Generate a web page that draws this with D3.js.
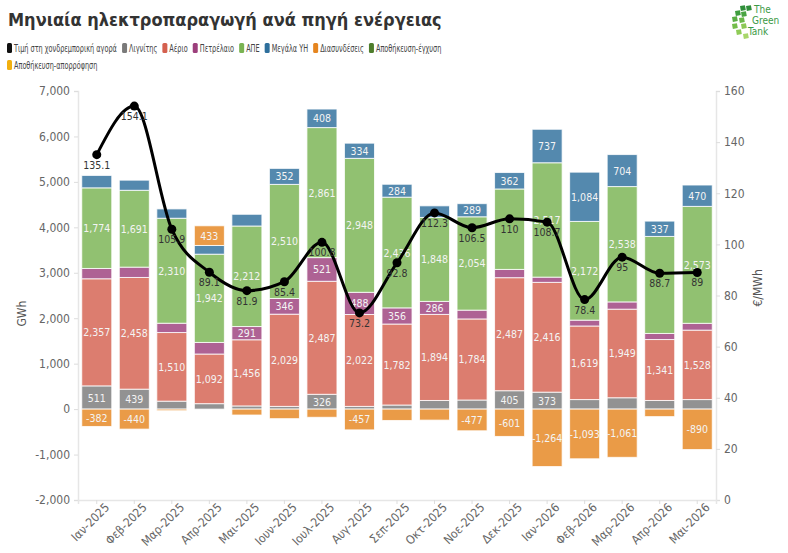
<!DOCTYPE html>
<html>
<head>
<meta charset="utf-8">
<script src="https://cdn.jsdelivr.net/npm/d3@7"></script>
<style>
  body { margin: 0; background: #fff; }
  svg text { font-family: "Liberation Sans Narrow", "DejaVu Sans Condensed", "Roboto Condensed", "Roboto", sans-serif; }
</style>
</head>
<body>
<script>
// Months on the x axis
var months = ["Ιαν-2025", "Φεβ-2025", "Μαρ-2025", "Απρ-2025", "Μαι-2025", "Ιουν-2025", "Ιουλ-2025", "Αυγ-2025",
  "Σεπ-2025", "Οκτ-2025", "Νοε-2025", "Δεκ-2025", "Ιαν-2026", "Φεβ-2026", "Μαρ-2026", "Απρ-2026", "Μαι-2026"];

// Generation per source (GWh)
var lignite = [511, 439, 175, 120, 70, 60, 326, 60, 90, 190, 200, 405, 373, 210, 250, 190, 210];
var gas = [2357, 2458, 1510, 1092, 1456, 2029, 2487, 2022, 1782, 1894, 1784, 2487, 2416, 1619, 1949, 1341, 1528];
var oil = [227, 227, 205, 255, 291, 346, 521, 488, 356, 286, 194, 182, 115, 129, 160, 134, 150];
var res = [1774, 1691, 2310, 1942, 2212, 2510, 2861, 2948, 2436, 1848, 2054, 1770, 2517, 2172, 2538, 2135, 2573];
var hydro = [273, 223, 205, 192, 258, 352, 408, 334, 284, 255, 289, 362, 737, 1084, 704, 337, 470];
var interconn = [-382, -440, -35, 433, -130, -210, -180, -457, -250, -242, -477, -601, -1264, -1093, -1061, -165, -890];
var storageOut = [0, 0, 0, 0, 0, 0, 0, 0, 0, 0, 0, 0, 0, 0, 0, 0, 0];
var storageIn = [0, 0, 0, 0, 0, 0, 0, 0, 0, 0, 0, 0, 0, 0, 0, 0, 0];

// Wholesale price (€/MWh)
var price = [135.1, 154.1, 105.9, 89.1, 81.9, 85.4, 100.8, 73.2, 92.8, 112.3, 106.5, 110, 108.7, 78.4, 95, 88.7, 89];

var leftTicks = [-2000, -1000, 0, 1000, 2000, 3000, 4000, 5000, 6000, 7000];
var rightTicks = [0, 20, 40, 60, 80, 100, 120, 140, 160];

// labels hidden in the original because they collide with price labels
var hiddenLabels = ["Δεκ-2025|ΑΠΕ", "Απρ-2026|ΑΠΕ"];

var series = [
  { key: "Λιγνίτης", values: lignite, color: "#7a7a7a" },
  { key: "Αέριο", values: gas, color: "#d4604f" },
  { key: "Πετρέλαιο", values: oil, color: "#9c3f7c" },
  { key: "ΑΠΕ", values: res, color: "#79b352" },
  { key: "Μεγάλα ΥΗ", values: hydro, color: "#2e6f9c" },
  { key: "Διασυνδέσεις", values: interconn, color: "#e5851f" },
  { key: "Αποθήκευση-έγχυση", values: storageOut, color: "#4e7d2c" },
  { key: "Αποθήκευση-απορρόφηση", values: storageIn, color: "#f2b00f" }
];

var svgWidth = 788;
var svgHeight = 553;
var margin = { top: 91, right: 72, bottom: 53, left: 78 };
var width = svgWidth - margin.left - margin.right;
var height = svgHeight - margin.top - margin.bottom;

var loc = d3.formatLocale({ decimal: ".", thousands: ",", grouping: [3], currency: ["", ""], minus: "-" });
var fmt = loc.format(",");

var svg = d3.select("body").append("svg")
  .attr("width", svgWidth)
  .attr("height", svgHeight);

// Title
svg.append("text")
  .attr("x", 8).attr("y", 26)
  .attr("font-size", 18).attr("font-weight", "bold").attr("fill", "#333")
  .text("Μηνιαία ηλεκτροπαραγωγή ανά πηγή ενέργειας");

// Logo
var logo = svg.append("g").attr("transform", "translate(728, 2)");
[["#2f8f3a", 12, 4], ["#3f9d3f", 7, 9], ["#5aae44", 4, 15], ["#74bd4b", 4, 22], ["#8fcb57", 8, 28], ["#a8d66a", 15, 32],
 ["#2f8f3a", 18, 4], ["#4aa443", 13, 10], ["#6bb84a", 11, 16], ["#8cc855", 13, 22]].forEach(function(s) {
  logo.append("rect").attr("x", s[1]).attr("y", s[2]).attr("width", 5).attr("height", 5)
    .attr("fill", s[0]).attr("transform", "rotate(-10," + s[1] + "," + s[2] + ")");
});
["The", "Green", "Tank"].forEach(function(t, i) {
  logo.append("text").attr("x", [26, 24, 20][i]).attr("y", 11 + i * 11)
    .attr("font-size", 10).attr("fill", "#3a9a45").text(t);
});

// Legend (horizontally condensed to match the original's narrow font)
var squeeze = 0.66;
var legendItems = [{ key: "Τιμή στη χονδρεμπορική αγορά", color: "#111" }].concat(series);
var lx = 7, ly = 48;
legendItems.forEach(function(d) {
  var g = svg.append("g");
  var t = g.append("text").attr("font-size", 11).attr("fill", "#444").text(d.key);
  var w = t.node().getComputedTextLength() * squeeze;
  if (lx + 7 + w > 470) { lx = 7; ly += 17; }
  g.attr("transform", "translate(" + lx + "," + ly + ")");
  g.insert("rect", "text").attr("x", 0).attr("y", -5).attr("width", 5).attr("height", 10).attr("rx", 1.5)
    .attr("fill", d.color);
  t.attr("transform", "translate(7,4) scale(" + squeeze + ",1)");
  lx += 7 + w + 5;
});

var chartGroup = svg.append("g")
  .attr("transform", `translate(${margin.left}, ${margin.top})`);

// Scales
var xScale = d3.scaleBand()
  .domain(months)
  .range([0, width])
  .paddingInner(0.2)
  .paddingOuter(0.1);

var yScale = d3.scaleLinear().domain([-2000, 7000]).range([height, 0]);
var yPrice = d3.scaleLinear().domain([0, 160]).range([height, 0]);

// Axes
var leftAxis = d3.axisLeft(yScale).tickValues(leftTicks).tickFormat(fmt).tickSize(4).tickPadding(4);
var rightAxis = d3.axisRight(yPrice).tickValues(rightTicks).tickSize(4).tickPadding(4);
var bottomAxis = d3.axisBottom(xScale).tickSize(4).tickPadding(4);

var gl = chartGroup.append("g").call(leftAxis);
var gr = chartGroup.append("g").attr("transform", `translate(${width}, 0)`).call(rightAxis);
var gb = chartGroup.append("g").attr("transform", `translate(0, ${height})`).call(bottomAxis);

[gl, gr, gb].forEach(function(g) {
  g.select(".domain").attr("stroke", "#e6e6e6").attr("stroke-width", 1.5);
  g.selectAll(".tick line").attr("stroke", "#ddd");
  g.selectAll(".tick text").attr("fill", "#666").attr("font-size", 12)
    .style("font-family", "\"Liberation Sans Narrow\", \"DejaVu Sans Condensed\", sans-serif");
});
gb.selectAll(".tick text")
  .attr("text-anchor", "end")
  .attr("dx", "0.3em").attr("dy", "0.6em")
  .attr("transform", "rotate(-45)");

// Axis titles
chartGroup.append("text")
  .attr("transform", `translate(-52, ${yScale(2100)}) rotate(-90)`)
  .attr("text-anchor", "middle").attr("font-size", 12).attr("fill", "#555").text("GWh");
chartGroup.append("text")
  .attr("transform", `translate(${width + 46}, ${yPrice(83)}) rotate(-90)`)
  .attr("text-anchor", "middle").attr("font-size", 12).attr("fill", "#555").text("€/MWh");

// Stacked bars
var table = months.map(function(m, i) {
  var row = { month: m };
  series.forEach(function(s) { row[s.key] = s.values[i]; });
  return row;
});

var stack = d3.stack()
  .keys(series.map(s => s.key))
  .offset(d3.stackOffsetDiverging);
var stacked = stack(table);

var layers = chartGroup.selectAll(".layer")
  .data(stacked)
  .enter().append("g")
  .attr("fill", (d, i) => series[i].color)
  .attr("fill-opacity", 0.82);

layers.selectAll("rect")
  .data(d => d.map(function(p) { p.key = d.key; return p; }))
  .enter().append("rect")
  .attr("x", d => xScale(d.data.month))
  .attr("width", xScale.bandwidth())
  .attr("y", d => yScale(Math.max(d[0], d[1])))
  .attr("height", d => Math.abs(yScale(d[0]) - yScale(d[1])))
  .attr("stroke", "#fff")
  .attr("stroke-opacity", 0.8)
  .attr("stroke-width", 1);

// Segment labels
layers.selectAll(".seg-label")
  .data(d => d.filter(p => Math.abs(p[1] - p[0]) >= 280 && hiddenLabels.indexOf(p.data.month + "|" + d.key) < 0))
  .enter().append("text")
  .attr("x", d => xScale(d.data.month) + xScale.bandwidth() / 2)
  .attr("y", d => yScale((d[0] + d[1]) / 2) + 4)
  .attr("text-anchor", "middle")
  .attr("font-size", 10.5)
  .attr("fill", "#f4f4f4")
  .attr("fill-opacity", 1)
  .text(d => fmt(d.data[d.key]));

// Price line
var priceLine = d3.line()
  .x((d, i) => xScale(months[i]) + xScale.bandwidth() / 2)
  .y(d => yPrice(d))
  .curve(d3.curveMonotoneX);

chartGroup.append("path")
  .datum(price)
  .attr("d", priceLine)
  .attr("fill", "none")
  .attr("stroke", "#000")
  .attr("stroke-width", 3);

chartGroup.selectAll(".pt")
  .data(price)
  .enter().append("circle")
  .attr("cx", (d, i) => xScale(months[i]) + xScale.bandwidth() / 2)
  .attr("cy", d => yPrice(d))
  .attr("r", 4.5)
  .attr("fill", "#000");

chartGroup.selectAll(".pt-label")
  .data(price)
  .enter().append("text")
  .attr("x", (d, i) => xScale(months[i]) + xScale.bandwidth() / 2)
  .attr("y", d => yPrice(d) + 14)
  .attr("text-anchor", "middle")
  .attr("font-size", 10.5)
  .attr("fill", "#333")
  .text(d => d);
</script>
</body>
</html>
